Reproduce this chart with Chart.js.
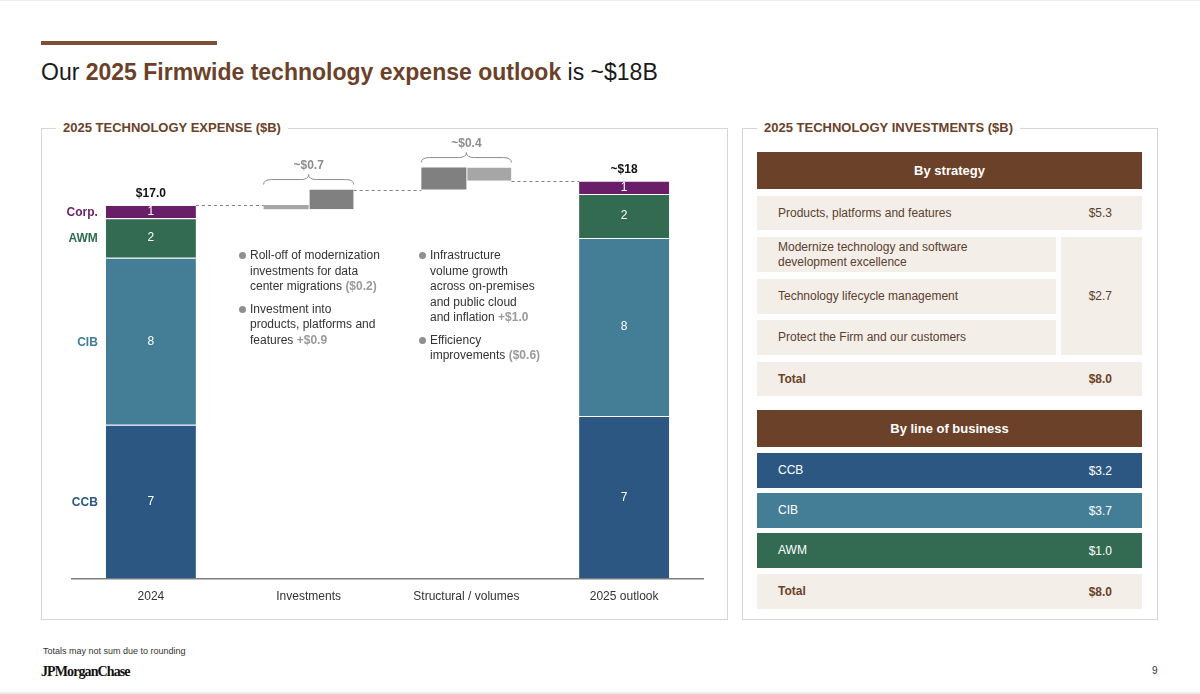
<!DOCTYPE html>
<html>
<head>
<meta charset="utf-8">
<script src="https://cdn.jsdelivr.net/npm/chart.js@4.4.1/dist/chart.umd.min.js"></script>
<style>
  html, body { margin: 0; padding: 0; background: #fff; }
  body { width: 1200px; height: 694px; position: relative; overflow: hidden;
         font-family: 'Liberation Sans', Arial, sans-serif; color: #222; }
  .abs { position: absolute; }
  .rule { left: 41px; top: 41px; width: 176px; height: 4px; background: #7d5035; }
  .title { left: 41px; top: 58px; font-size: 23px; line-height: 28px; color: #1a1a1a; white-space: nowrap; }
  .title b { color: #6b4129; }
  .panel { border: 1px solid #d6d6d6; box-sizing: border-box; }
  .panel-title { top: 120px; padding: 0 7px; background: #fff; font-size: 13px; font-weight: bold;
                 color: #6b4129; line-height: 16px; white-space: nowrap; }
  .notes { font-size: 12px; line-height: 15.5px; color: #333; }
  .notes .item { position: relative; padding-left: 10px; margin-bottom: 7px; }
  .notes .item::before { content: ''; position: absolute; left: -1px; top: 4px; width: 7px; height: 7px;
                         border-radius: 50%; background: #8f8f8f; }
  .notes .v { color: #9a9a9a; font-weight: bold; }
  .cell { box-sizing: border-box; display: flex; align-items: center; font-size: 12px; }
  .beige { background: #f3eee7; color: #5a4030; }
  .head { background: #6b4129; color: #fff; font-weight: bold; font-size: 13px; justify-content: center; }
  .lob { color: #fff; }
  .cell .name { padding-left: 21px; flex: 1; line-height: 15px; }
  .cell .val { padding-right: 30px; }
  .total { font-weight: bold; color: #6b4129; }
  .foot { left: 43px; top: 646px; font-size: 9px; color: #333; }
  .logo { left: 41px; top: 664px; font-family: 'Liberation Serif', 'DejaVu Serif', serif; font-weight: bold;
          font-size: 14px; letter-spacing: -0.9px; color: #111; }
  .page { left: 1152px; top: 665px; font-size: 10px; color: #333; }
</style>
</head>
<body>
<div class="abs" style="left:0;top:0;width:1200px;height:1px;background:#ececec"></div>
<div class="abs" style="left:0;top:692px;width:1200px;height:2px;background:#ececec"></div>
<div class="abs rule"></div>
<div class="abs title">Our <b>2025 Firmwide technology expense outlook</b> is ~$18B</div>

<div class="abs panel" style="left:41px;top:128px;width:687px;height:492px"></div>
<div class="abs panel-title" style="left:56px">2025 TECHNOLOGY EXPENSE ($B)</div>
<div class="abs" style="left:41px;top:128px;width:687px;height:492px">
  <canvas id="expense-chart"></canvas>
</div>

<div class="abs notes" style="left:240px;top:248px;width:170px">
  <div class="item">Roll-off of modernization<br>investments for data<br>center migrations <span class="v">($0.2)</span></div>
  <div class="item">Investment into<br>products, platforms and<br>features <span class="v">+$0.9</span></div>
</div>
<div class="abs notes" style="left:420px;top:248px;width:170px">
  <div class="item">Infrastructure<br>volume growth<br>across on-premises<br>and public cloud<br>and inflation <span class="v">+$1.0</span></div>
  <div class="item">Efficiency<br>improvements <span class="v">($0.6)</span></div>
</div>

<div class="abs panel" style="left:742px;top:128px;width:416px;height:492px"></div>
<div class="abs panel-title" style="left:757px">2025 TECHNOLOGY INVESTMENTS ($B)</div>
<div id="tables"></div>

<div class="abs foot">Totals may not sum due to rounding</div>
<div class="abs logo">JPMorganChase</div>
<div class="abs page">9</div>

<script>
// ---- data ----
const categories = ['2024', 'Investments', 'Structural / volumes', '2025 outlook'];
const segments = ['CCB', 'CIB', 'AWM', 'Corp.'];
const segmentColors = ['#2c5782', '#437e96', '#336b52', '#6a1e6a'];
const segmentTextColors = ['#2c5782', '#3f7e96', '#2f6b4f', '#6b1f6b'];
const values2024 = [7.0, 7.6, 1.8, 0.6];
const values2025 = [7.4, 8.1, 2.0, 0.6];
const investmentSteps = [-0.2, 0.9];
const structuralSteps = [1.0, -0.6];
const totalLabels = ['$17.0', '~$18'];
const braceLabels = ['~$0.7', '~$0.4'];

const strategyNames = ['Products, platforms and features', 'Modernize technology and software development excellence',
    'Technology lifecycle management', 'Protect the Firm and our customers'];
const strategyValues = ['$5.3', '$2.7'];
const strategyTotal = '$8.0';
const lobNames = ['CCB', 'CIB', 'AWM'];
const lobValues = ['$3.2', '$3.7', '$1.0'];
const lobTotal = '$8.0';

const LIGHT = '#a6a6a6';
const DARK = '#808080';
const FONT = "'Liberation Sans', Arial, sans-serif";

// walk the waterfall from a starting level
function buildSteps(start, steps) {
    let level = start;
    return steps.map(d => {
        const from = level;
        level = Math.round((level + d) * 10) / 10;
        return [from, level];
    });
}

const total2024 = values2024.reduce((a, b) => a + b, 0);
const invBars = buildSteps(total2024, investmentSteps);
const structBars = buildSteps(invBars[invBars.length - 1][1], structuralSteps);
const stepColor = d => (d < 0 ? LIGHT : DARK);

const datasets = segments.map((name, i) => ({
    label: name,
    stack: 'lob',
    data: [values2024[i], null, null, values2025[i]],
    backgroundColor: segmentColors[i],
    borderColor: '#ffffff',
    borderWidth: { top: 1, left: 0, right: 0, bottom: 0 },
    borderSkipped: false
}));

datasets.push({
    label: 'stepA',
    stack: 'left',
    data: [null, invBars[0], structBars[0], null],
    backgroundColor: [null, stepColor(investmentSteps[0]), stepColor(structuralSteps[0]), null]
});
datasets.push({
    label: 'stepB',
    stack: 'right',
    data: [null, invBars[1], structBars[1], null],
    backgroundColor: [null, stepColor(investmentSteps[1]), stepColor(structuralSteps[1]), null],
    borderColor: '#ffffff',
    borderWidth: { left: 1, top: 0, right: 0, bottom: 0 },
    borderSkipped: false
});

const barEdges = bar => ({
    left: bar.x - bar.width / 2,
    right: bar.x + bar.width / 2,
    top: Math.min(bar.y, bar.base),
    bottom: Math.max(bar.y, bar.base)
});

function drawBrace(ctx, x1, x2, yb, h) {
    const mid = (x1 + x2) / 2;
    const ym = yb - h / 2;
    const yt = yb - h;
    const r = 8;
    ctx.beginPath();
    ctx.moveTo(x1, yb);
    ctx.quadraticCurveTo(x1, ym, x1 + r, ym);
    ctx.lineTo(mid - r, ym);
    ctx.quadraticCurveTo(mid, ym, mid, yt);
    ctx.quadraticCurveTo(mid, ym, mid + r, ym);
    ctx.lineTo(x2 - r, ym);
    ctx.quadraticCurveTo(x2, ym, x2, yb);
    ctx.stroke();
}

const annotate = {
    id: 'annotate',
    afterDatasetsDraw(chart) {
        const { ctx } = chart;
        const yScale = chart.scales.y;
        ctx.save();
        ctx.textBaseline = 'middle';

        // values inside stacked bars + segment names on the left
        segments.forEach((name, i) => {
            const meta = chart.getDatasetMeta(i);
            [0, 3].forEach(j => {
                const bar = meta.data[j];
                const v = chart.data.datasets[i].data[j];
                ctx.fillStyle = '#ffffff';
                ctx.font = `12px ${FONT}`;
                ctx.textAlign = 'center';
                ctx.fillText(String(Math.round(v)), bar.x, (bar.y + bar.base) / 2);
            });
            const b = meta.data[0];
            ctx.fillStyle = segmentTextColors[i];
            ctx.font = `bold 12px ${FONT}`;
            ctx.textAlign = 'right';
            ctx.fillText(name, b.x - b.width / 2 - 8, (b.y + b.base) / 2 + 1);
        });

        // totals above stacked bars
        const topMeta = chart.getDatasetMeta(segments.length - 1);
        [0, 3].forEach((j, k) => {
            const e = barEdges(topMeta.data[j]);
            ctx.fillStyle = '#111';
            ctx.font = `bold 12px ${FONT}`;
            ctx.textAlign = 'center';
            ctx.fillText(totalLabels[k], topMeta.data[j].x, e.top - 11);
        });

        // dashed connectors
        const a = chart.getDatasetMeta(segments.length);
        const b = chart.getDatasetMeta(segments.length + 1);
        const links = [
            [barEdges(topMeta.data[0]).right, barEdges(a.data[1]).left, total2024],
            [barEdges(b.data[1]).right, barEdges(a.data[2]).left, invBars[invBars.length - 1][1]],
            [barEdges(b.data[2]).right, barEdges(topMeta.data[3]).left, structBars[structBars.length - 1][1]]
        ];
        ctx.strokeStyle = '#7f7f7f';
        ctx.lineWidth = 1;
        ctx.setLineDash([3, 3]);
        links.forEach(([x1, x2, v]) => {
            const y = Math.round(yScale.getPixelForValue(v)) + 0.5;
            ctx.beginPath();
            ctx.moveTo(x1, y);
            ctx.lineTo(x2, y);
            ctx.stroke();
        });
        ctx.setLineDash([]);

        // braces with step totals
        [1, 2].forEach((j, k) => {
            const l = barEdges(a.data[j]);
            const r = barEdges(b.data[j]);
            const top = Math.min(l.top, r.top);
            const yb = top - 5;
            ctx.strokeStyle = '#8c8c8c';
            ctx.lineWidth = 1;
            drawBrace(ctx, l.left, r.right, yb, 10);
            ctx.fillStyle = '#8c8c8c';
            ctx.font = `bold 12px ${FONT}`;
            ctx.textAlign = 'center';
            ctx.fillText(braceLabels[k], (l.left + r.right) / 2, yb - 19);
        });
        ctx.restore();
    }
};

new Chart(document.getElementById('expense-chart').getContext('2d'), {
    type: 'bar',
    data: { labels: categories, datasets },
    options: {
        responsive: true,
        maintainAspectRatio: false,
        animation: false,
        layout: { padding: { left: 31, right: 25, top: 11, bottom: 5 } },
        datasets: {
            bar: { categoryPercentage: 0.571, barPercentage: 1, skipNull: true }
        },
        plugins: { legend: { display: false }, tooltip: { enabled: false } },
        scales: {
            x: {
                stacked: true,
                grid: { display: false, drawTicks: false },
                border: { display: true, color: '#7f7f7f', width: 1.5 },
                ticks: { color: '#333', padding: 11, font: { family: FONT, size: 12 } }
            },
            y: { stacked: true, display: false, min: 0, max: 20 }
        }
    },
    plugins: [annotate]
});

// ---- investments tables ----
function cell(cls, left, top, w, h, name, val) {
    return `<div class="abs cell ${cls}" style="left:${left}px;top:${top}px;width:${w}px;height:${h}px">` +
        `<span class="name">${name}</span><span class="val">${val}</span></div>`;
}
const L = 757, W = 385;
let html = '';
html += `<div class="abs cell head" style="left:${L}px;top:152px;width:${W}px;height:37px">By strategy</div>`;
html += cell('beige', L, 196, W, 34, strategyNames[0], strategyValues[0]);
[237, 279, 320].forEach((t, i) => {
    const n = strategyNames[i + 1].replace('software ', 'software<br>');
    html += cell('beige', L, t, 299, 35, n, '');
});
html += `<div class="abs cell beige" style="left:1061px;top:237px;width:81px;height:118px;justify-content:flex-end">` +
    `<span class="val">${strategyValues[1]}</span></div>`;
html += cell('beige total', L, 362, W, 34, 'Total', strategyTotal);
html += `<div class="abs cell head" style="left:${L}px;top:410px;width:${W}px;height:37px">By line of business</div>`;
[453, 493, 533].forEach((t, i) => {
    html += `<div class="abs cell lob" style="left:${L}px;top:${t}px;width:${W}px;height:35px;background:${segmentColors[i]}">` +
        `<span class="name">${lobNames[i]}</span><span class="val">${lobValues[i]}</span></div>`;
});
html += cell('beige total', L, 574, W, 35, 'Total', lobTotal);
document.getElementById('tables').innerHTML = html;
</script>
</body>
</html>
